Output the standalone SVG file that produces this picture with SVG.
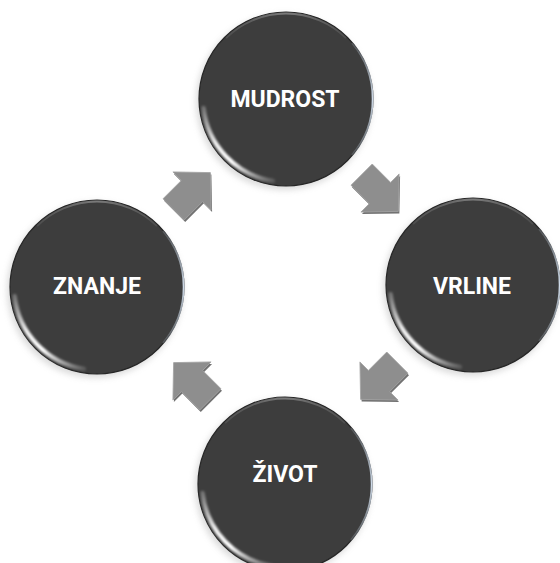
<svg xmlns="http://www.w3.org/2000/svg" width="560" height="563" viewBox="0 0 560 563">
  <defs>
    <style>
      .lbl { font-family: Roboto, "Liberation Sans", sans-serif; font-weight: 700; font-size: 23px; fill: #ffffff; text-anchor: middle; }
      .ball { fill: #3d3d3d; stroke: #262626; stroke-width: 1.2; }
      .arr { fill: #8e8e8e; stroke: #a4a4a4; stroke-width: 0.8; }
      .arrs { fill: #727272; }
    </style>
    <filter id="blur" x="-20%" y="-20%" width="140%" height="140%">
      <feGaussianBlur stdDeviation="3"/>
    </filter>
    <filter id="soft" x="-20%" y="-20%" width="140%" height="140%">
      <feGaussianBlur stdDeviation="0.8"/>
    </filter>
    <linearGradient id="hl" gradientUnits="userSpaceOnUse" x1="-6" y1="86" x2="-86" y2="-8">
      <stop offset="0" stop-color="#ffffff" stop-opacity="0"/>
      <stop offset="0.4" stop-color="#ffffff" stop-opacity="1"/>
      <stop offset="0.6" stop-color="#ffffff" stop-opacity="0.9"/>
      <stop offset="1" stop-color="#ffffff" stop-opacity="0"/>
    </linearGradient>
    <linearGradient id="rim" gradientUnits="userSpaceOnUse" x1="60" y1="-70" x2="60" y2="70">
      <stop offset="0" stop-color="#c8d6e4" stop-opacity="0"/>
      <stop offset="0.5" stop-color="#d0dcea" stop-opacity="1"/>
      <stop offset="1" stop-color="#c8d6e4" stop-opacity="0"/>
    </linearGradient>
    <linearGradient id="top" gradientUnits="userSpaceOnUse" x1="-80" y1="0" x2="80" y2="0">
      <stop offset="0" stop-color="#8a8a8a" stop-opacity="0"/>
      <stop offset="0.5" stop-color="#8a8a8a" stop-opacity="0.8"/>
      <stop offset="1" stop-color="#8a8a8a" stop-opacity="0"/>
    </linearGradient>
    <g id="orb">
      <circle r="88" cx="-2" cy="3" fill="#9a9a9a" opacity="0.35" filter="url(#blur)"/>
      <circle r="87" class="ball"/>
      <path d="M -13,82 A 83 83 0 0 1 -82.5,9" fill="none" stroke="url(#hl)" stroke-width="4.5" stroke-linecap="round" filter="url(#soft)"/>
      <path d="M 66,-56 A 86.3 86.3 0 0 1 66,56" fill="none" stroke="url(#rim)" stroke-width="1.8"/>
      <path d="M -60,-61 A 85.5 85.5 0 0 1 60,-61" fill="none" stroke="url(#top)" stroke-width="2"/>
    </g>
    <path id="arrow" d="M -26,-15 L 0,-15 L 0,-27 L 26,0 L 0,27 L 0,15 L -26,15 Z"/>
  </defs>

  <g id="connectors">
    <g id="arrow-mudrost-vrline">
      <use href="#arrow" class="arrs" transform="translate(381,195) rotate(45)"/>
      <use href="#arrow" class="arr" transform="translate(380,193) rotate(45)"/>
    </g>
    <g id="arrow-vrline-zivot">
      <use href="#arrow" class="arrs" transform="translate(380,383) rotate(135)"/>
      <use href="#arrow" class="arr" transform="translate(379,381) rotate(135)"/>
    </g>
    <g id="arrow-zivot-znanje">
      <use href="#arrow" class="arrs" transform="translate(193,383) rotate(225)"/>
      <use href="#arrow" class="arr" transform="translate(192,381) rotate(225)"/>
    </g>
    <g id="arrow-znanje-mudrost">
      <use href="#arrow" class="arrs" transform="translate(193,193) rotate(-45)"/>
      <use href="#arrow" class="arr" transform="translate(192,191) rotate(-45)"/>
    </g>
  </g>

  <g id="node-mudrost">
    <use href="#orb" transform="translate(286,99)"/>
    <text class="lbl" x="285" y="107">MUDROST</text>
  </g>
  <g id="node-vrline">
    <use href="#orb" transform="translate(473,285)"/>
    <text class="lbl" x="472" y="294">VRLINE</text>
  </g>
  <g id="node-zivot">
    <use href="#orb" transform="translate(285,484)"/>
    <text class="lbl" x="285" y="482">ŽIVOT</text>
  </g>
  <g id="node-znanje">
    <use href="#orb" transform="translate(97,287)"/>
    <text class="lbl" x="97" y="294">ZNANJE</text>
  </g>
</svg>
